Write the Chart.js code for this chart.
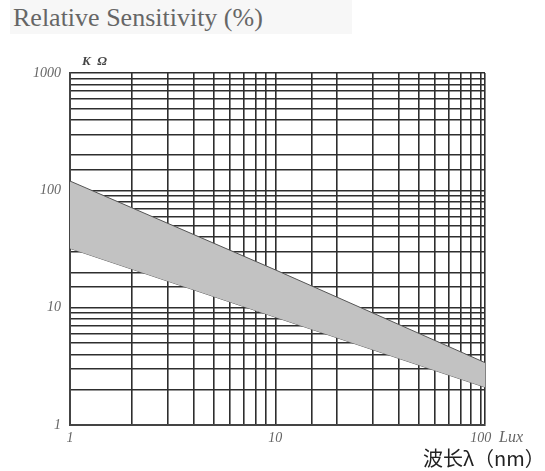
<!DOCTYPE html>
<html>
<head>
<meta charset="utf-8">
<script src="https://cdn.jsdelivr.net/npm/chart.js@4/dist/chart.umd.min.js"></script>
<style>
  body { margin: 0; background: #fff; }
  #wrap { position: relative; width: 545px; height: 471px; }
  #title {
    position: absolute; left: 10px; top: 0; width: 339px; height: 34px;
    background: #f7f7f7; color: #666;
    font: 26px "Liberation Serif", "Times New Roman", serif; line-height: 36px; padding-left: 3px;
  }
  #unit {
    position: absolute; left: 423px; top: 443px; color: #222;
    font: 20px "Noto Sans CJK SC", sans-serif;
  }
</style>
</head>
<body>
<div id="wrap">
  <canvas id="myChart" width="545" height="471"></canvas>
  <div id="title">Relative Sensitivity (%)</div>
  <div id="unit">波长λ（nm）</div>
</div>
<script>
// illuminance (Lux) and resistance band limits (kΩ)
var lux = [1, 10, 105];
var upperKOhm = [120, 21, 3.4];
var lowerKOhm = [32, 8.3, 2.1];
var xTickLabels = [1, 10, 100];
var yTickLabels = [1, 10, 100, 1000];

function pts(ys) {
    return lux.map(function (x, i) { return { x: x, y: ys[i] }; });
}

var tickFont = { family: '"Liberation Serif", "Times New Roman", serif', size: 14, style: 'italic' };

// keep only ticks inside the axis range
function clipTicks(s) {
    s.ticks = s.ticks.filter(function (t) { return t.value >= s.min && t.value <= s.max; });
}

// extra axis captions (unit texts)
var captions = {
    id: 'captions',
    afterDraw: function (chart) {
        var ctx = chart.ctx, a = chart.chartArea;
        ctx.save();
        ctx.fillStyle = '#444';
        ctx.font = 'italic bold 13px "Liberation Serif", serif';
        ctx.textBaseline = 'middle';
        ctx.fillText('K  \u03A9', a.left + 12, a.top - 11);
        ctx.fillStyle = '#666';
        ctx.font = 'italic 16px "Liberation Serif", serif';
        ctx.fillText('Lux', a.right + 14, a.bottom + 13);
        ctx.restore();
    }
};

function init() {
    var ctx = document.getElementById('myChart').getContext('2d');
    var chart = new Chart(ctx, {
        type: 'line',
        data: {
            datasets: [{
                label: 'upper',
                data: pts(upperKOhm),
                borderColor: '#555',
                borderWidth: 1,
                backgroundColor: '#c2c2c2',
                pointRadius: 0,
                fill: '+1'
            }, {
                label: 'lower',
                data: pts(lowerKOhm),
                borderColor: '#555',
                borderWidth: 1,
                pointRadius: 0,
                fill: false
            }]
        },
        options: {
            responsive: false,
            animation: false,
            layout: { padding: { top: 73, right: 60, left: 0, bottom: 0 } },
            plugins: { legend: { display: false }, tooltip: { enabled: false } },
            scales: {
                x: {
                    type: 'logarithmic',
                    min: 1,
                    max: 105,
                    afterBuildTicks: clipTicks,
                    afterFit: function (s) { s.height = 46; },
                    grid: { color: '#2e2e2e', lineWidth: 1.6, drawTicks: false },
                    border: { color: '#444', width: 2 },
                    ticks: {
                        autoSkip: false, maxRotation: 0, padding: 5, color: '#666', font: tickFont,
                        callback: function (v) { return xTickLabels.indexOf(v) >= 0 ? String(v) : ''; }
                    }
                },
                y: {
                    type: 'logarithmic',
                    min: 1,
                    max: 1000,
                    afterBuildTicks: clipTicks,
                    afterFit: function (s) { s.width = 70; },
                    grid: { color: '#2e2e2e', lineWidth: 1.6, drawTicks: false },
                    border: { color: '#444', width: 2 },
                    ticks: {
                        autoSkip: false, padding: 9, color: '#666', font: tickFont,
                        callback: function (v) { return yTickLabels.indexOf(v) >= 0 ? String(v) : ''; }
                    }
                }
            }
        },
        plugins: [captions]
    });
}
init();
</script>
</body>
</html>
